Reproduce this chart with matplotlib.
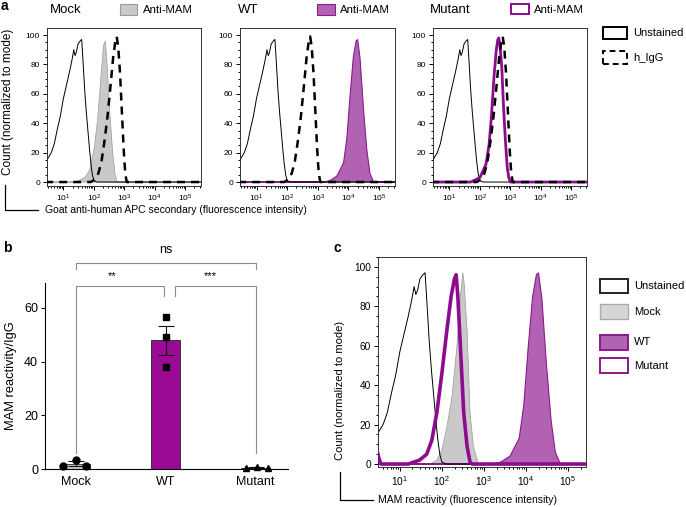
import numpy as np
import matplotlib.pyplot as plt
from matplotlib.patches import Rectangle
from matplotlib.lines import Line2D
from matplotlib.ticker import LogLocator, MultipleLocator, NullFormatter, FixedLocator

plt.rcParams['font.family'] = ['Liberation Sans', 'DejaVu Sans']

W, H = 686, 507

# ---- histogram data (log10 intensity, count normalized to mode) ----
unst_lx = [0.40, 0.6, 0.7, 0.8, 0.9, 1.0, 1.1, 1.2, 1.28, 1.34, 1.38, 1.42, 1.48, 1.55, 1.6,
           1.65, 1.7, 1.75, 1.8, 1.85, 1.9, 1.95, 2.0, 2.1, 5.7]
unst_y = [13, 20, 26, 36, 45, 57, 66, 75, 83, 90, 86, 88, 94, 96, 97,
          80, 62, 48, 36, 24, 13, 5, 1, 0, 0]

igg_lx = [0.40, 1.9, 2.05, 2.15, 2.25, 2.35, 2.45, 2.55, 2.63, 2.7, 2.75, 2.8, 2.86, 2.92,
          2.98, 3.03, 3.08, 5.7]
igg_y = [0, 0, 2, 6, 14, 28, 45, 66, 84, 95, 99, 92, 74, 48, 22, 6, 0, 0]

mock_lx = [0.40, 1.4, 1.7, 1.86, 2.02, 2.13, 2.24, 2.32, 2.38, 2.44, 2.52, 2.61, 2.69, 2.76, 5.7]
mock_y = [0, 0, 3, 8, 24, 44, 74, 93, 96, 78, 49, 22, 6, 0, 0]

wt_lx = [0.40, 3.2, 3.4, 3.62, 3.84, 3.95, 4.05, 4.16, 4.25, 4.3, 4.38, 4.49, 4.6, 4.7, 4.82, 5.7]
wt_y = [0, 0, 1, 4, 13, 30, 58, 85, 96, 97, 84, 50, 22, 6, 0, 0]

mut_lx = [0.40, 1.7, 2.0, 2.2, 2.3, 2.37, 2.47, 2.54, 2.59, 2.62, 2.66, 2.72, 2.78, 2.84,
          2.9, 2.95, 3.0, 5.7]
mut_y = [0, 0, 3, 12, 25, 42, 73, 90, 97, 98, 93, 78, 50, 28, 10, 3, 0, 0]

# panel c overlays
mockc_lx = [0.40, 1.72, 1.88, 2.0, 2.12, 2.24, 2.36, 2.44, 2.5, 2.53, 2.6, 2.67, 2.75, 2.87, 5.7]
mockc_y = [0, 0, 2, 7, 19, 34, 60, 85, 97, 92, 68, 26, 9, 0, 0]
mutc_lx = [0.48, 0.5, 0.55, 1.2, 1.47, 1.64, 1.76, 1.88, 2.0, 2.12, 2.22, 2.3, 2.34, 2.38,
           2.44, 2.52, 2.6, 2.67, 2.72, 5.7]
mutc_y = [5, 3, 0, 0, 2, 5, 12, 26, 46, 68, 85, 94, 96, 85, 60, 26, 9, 1, 0, 0]

# ---- panel b data ----
groups = ['Mock', 'WT', 'Mutant']
means = [2.0, 48.0, 0.5]
sems = [0.8, 5.4, 0.2]
mock_pts = [1.2, 3.5, 1.3]
wt_pts = [56.5, 49.0, 38.0]
mut_pts = [0.2, 0.8, 0.5]

GREY_F = '#c9c9c9'
GREY_E = '#9a9a9a'
PURP_F = '#b262b2'
PURP_E = '#8a1a8a'
PURP_L = '#8e0a8e'
BAR_P = '#9b0a94'

fig = plt.figure(figsize=(6.86, 5.07), dpi=100)


def px_axes(l, t, r, b):
    return fig.add_axes([l / W, 1 - b / H, (r - l) / W, (b - t) / H])


def box(x0, y0, x1, y1, **kw):
    fig.add_artist(Rectangle((x0 / W, 1 - y1 / H), (x1 - x0) / W, (y1 - y0) / H,
                             transform=fig.transFigure, **kw))


def fline(xs, ys, **kw):
    fig.add_artist(Line2D([x / W for x in xs], [1 - y / H for y in ys],
                          transform=fig.transFigure, **kw))


def ftext(x, y, s, **kw):
    fig.text(x / W, 1 - y / H, s, **kw)


def lg(v):
    return 10 ** np.array(v)


def hist_style(ax, xlim, ylim, fs):
    ax.set_xscale('log')
    ax.set_xlim(10 ** xlim[0], 10 ** xlim[1])
    ax.set_ylim(*ylim)
    ax.xaxis.set_major_locator(FixedLocator([1e1, 1e2, 1e3, 1e4, 1e5]))
    ax.xaxis.set_minor_locator(LogLocator(base=10, subs=np.arange(2, 10), numticks=20))
    ax.xaxis.set_minor_formatter(NullFormatter())
    ax.yaxis.set_major_locator(MultipleLocator(20))
    ax.yaxis.set_minor_locator(MultipleLocator(5))
    ax.tick_params(which='both', direction='out', labelsize=fs, width=0.7, pad=2)
    ax.tick_params(which='major', length=3)
    ax.tick_params(which='minor', length=1.5)
    for s in ax.spines.values():
        s.set_linewidth(0.7)
        s.set_color('#333333')


# ---------------- panel a ----------------
a_pos = [(47, 28, 201, 186), (240, 28, 395, 186), (433, 28, 587, 186)]
for i, (l, t, r, b) in enumerate(a_pos):
    ax = px_axes(l, t, r, b)
    if i == 0:
        ax.fill(lg(mock_lx), mock_y, facecolor=GREY_F, edgecolor=GREY_E, lw=0.5, zorder=1)
    elif i == 1:
        ax.fill(lg(wt_lx), wt_y, facecolor=PURP_F, edgecolor=PURP_E, lw=0.8, zorder=1)
    ax.plot(lg(unst_lx), unst_y, color='black', lw=0.7, zorder=2)
    if i == 2:
        ax.plot(lg(mut_lx), mut_y, color=PURP_L, lw=2.0, zorder=3)
    ax.plot(lg(igg_lx), igg_y, color='black', lw=1.8, ls=(0, (3.2, 2.4)), zorder=4)
    hist_style(ax, (0.46, 5.52), (-2.7, 104.8), 6)

ftext(50, 10, 'Mock', fontsize=9.5, va='center')
box(120, 4, 137, 15, facecolor=GREY_F, edgecolor=GREY_E, lw=0.8)
ftext(143, 10, 'Anti-MAM', fontsize=8.2, va='center')
ftext(238, 10, 'WT', fontsize=9.5, va='center')
box(317, 4, 335, 15, facecolor=PURP_F, edgecolor=PURP_E, lw=0.8)
ftext(340, 10, 'Anti-MAM', fontsize=8.2, va='center')
ftext(430, 10, 'Mutant', fontsize=9.5, va='center')
box(511, 4, 529, 14, facecolor='white', edgecolor=PURP_L, lw=1.4)
ftext(534, 10, 'Anti-MAM', fontsize=8.2, va='center')

box(603, 27, 627, 39, facecolor='white', edgecolor='black', lw=1.4)
ftext(633, 33, 'Unstained', fontsize=8, va='center')
box(603, 51, 627, 64, facecolor='white', edgecolor='black', lw=1.4, ls=(0, (3, 2)))
ftext(633, 58, 'h_IgG', fontsize=8, va='center')

ftext(8, 102, 'Count (normalized to mode)', fontsize=8.5, rotation=90, va='center', ha='center')
fline([5, 5, 38], [185, 210, 210], color='black', lw=0.9)
ftext(45, 210, 'Goat anti-human APC secondary (fluorescence intensity)', fontsize=7.5, va='center')
ftext(1, 6, 'a', fontsize=10, fontweight='bold', va='center')

# ---------------- panel b ----------------
axb = px_axes(45, 283, 288, 469)
x = np.arange(len(groups))
axb.bar(x, means, width=0.33, color=[GREY_F, BAR_P, 'white'],
        edgecolor='#222222', lw=0.6, zorder=1)
axb.errorbar(x, means, yerr=sems, fmt='none', ecolor='#111111', capsize=6, lw=0.8,
             capthick=0.8, zorder=2)
axb.plot([-0.14, 0, 0.12], mock_pts, 'o', color='black', ms=5, zorder=3, clip_on=False)
axb.plot([1, 1, 1], wt_pts, 's', color='black', ms=5, zorder=3, clip_on=False)
axb.plot([1.89, 2.01, 2.14], mut_pts, '^', color='black', ms=5, zorder=3, clip_on=False)
axb.set_xlim(-0.34, 2.36)
axb.set_ylim(0, 69.3)
axb.set_yticks([0, 20, 40, 60])
axb.set_xticks(x)
axb.set_xticklabels(groups)
axb.tick_params(axis='y', labelsize=9, length=3, width=0.7, pad=2)
axb.tick_params(axis='x', labelsize=9, length=0, pad=5)
axb.spines['top'].set_visible(False)
axb.spines['right'].set_visible(False)
for s in ('left', 'bottom'):
    axb.spines[s].set_linewidth(0.8)
axb.set_ylabel('MAM reactivity/IgG', fontsize=9.3, labelpad=5)

bc = '#8c8c8c'
axb.plot([0, 0, 0.98, 0.98], [6, 68.1, 68.1, 64.4], color=bc, lw=0.8, clip_on=False)
axb.plot([1.1, 1.1, 2.0, 2.0], [64.4, 68.1, 68.1, 6], color=bc, lw=0.8, clip_on=False)
axb.plot([0, 0, 2.0, 2.0], [74.4, 76.7, 76.7, 74.4], color=bc, lw=0.8, clip_on=False)
axb.text(0.41, 72.0, '**', fontsize=8, ha='center', va='center')
axb.text(1.5, 72.0, '***', fontsize=8, ha='center', va='center')
axb.text(1.0, 81.5, 'ns', fontsize=9, ha='center', va='center')
ftext(3, 248, 'b', fontsize=10, fontweight='bold', va='center')

# ---------------- panel c ----------------
axc = px_axes(378, 257, 586, 467)
axc.fill(lg(mockc_lx), mockc_y, facecolor=GREY_F, edgecolor=GREY_E, lw=0.5, zorder=1)
axc.fill(lg(wt_lx), wt_y, facecolor=PURP_F, edgecolor=PURP_E, lw=0.8, zorder=1)
axc.plot(lg(unst_lx), unst_y, color='black', lw=0.7, zorder=2)
axc.plot(lg(mutc_lx), mutc_y, color=PURP_L, lw=2.6, zorder=3)
hist_style(axc, (0.48, 5.43), (-1.5, 105), 7.3)

box(600, 279, 628, 293, facecolor='white', edgecolor='#222222', lw=1.4)
ftext(634, 286, 'Unstained', fontsize=8, va='center')
box(600, 304, 628, 319, facecolor='#d6d6d6', edgecolor='#aaaaaa', lw=1.0)
ftext(634, 312, 'Mock', fontsize=8, va='center')
box(600, 335, 628, 350, facecolor=PURP_F, edgecolor=PURP_E, lw=1.4)
ftext(634, 342, 'WT', fontsize=8, va='center')
box(600, 358, 628, 373, facecolor='white', edgecolor=PURP_E, lw=1.4)
ftext(634, 366, 'Mutant', fontsize=8, va='center')

ftext(340, 390, 'Count (normalized to mode)', fontsize=8, rotation=90, va='center', ha='center')
fline([340, 340, 373], [472, 500, 500], color='black', lw=0.9)
ftext(378, 500, 'MAM reactivity (fluorescence intensity)', fontsize=7.5, va='center')
ftext(334, 248, 'c', fontsize=10, fontweight='bold', va='center')

fig.savefig('out.png', dpi=100)
